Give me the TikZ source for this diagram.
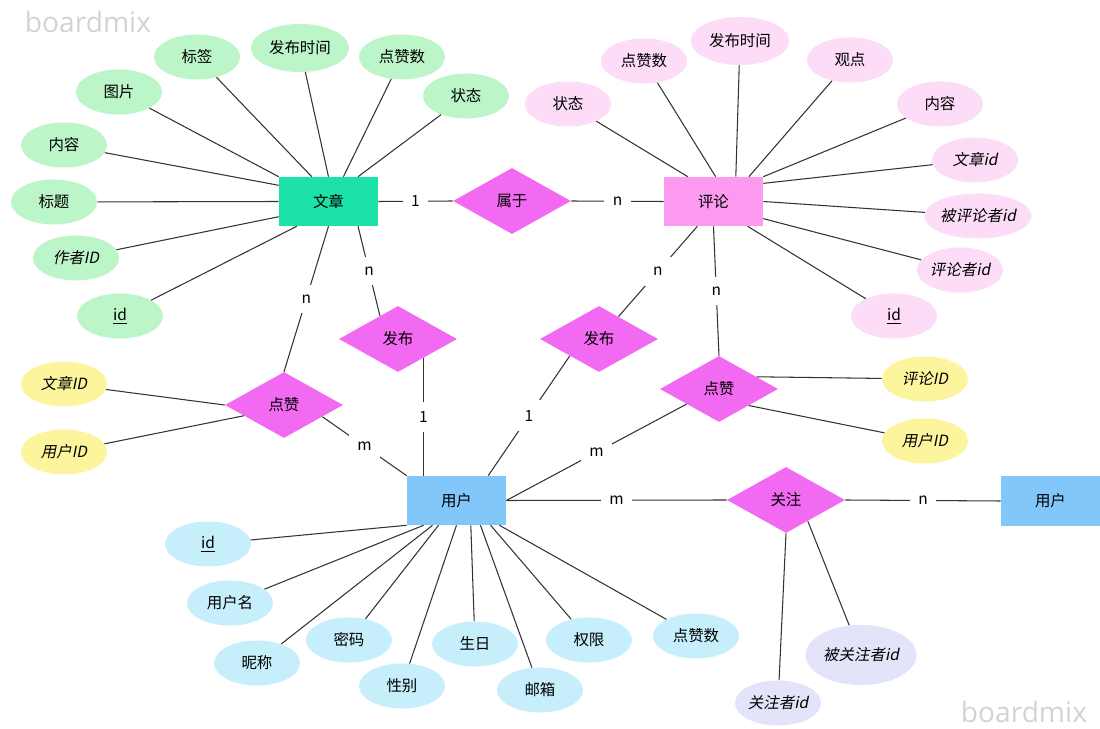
\documentclass[tikz,border=0pt]{standalone}
\usepackage{fontspec}
\setmainfont{Noto Sans CJK SC}[AutoFakeSlant=0.2]
\newfontfamily\wmfont{Open Sans}
\usetikzlibrary{shapes.geometric}
\definecolor{attrGreen}{HTML}{BCF5C8}
\definecolor{attrPink}{HTML}{FCDCF6}
\definecolor{attrYellow}{HTML}{FDF59E}
\definecolor{attrBlue}{HTML}{C6EEFB}
\definecolor{attrLav}{HTML}{E3E3FA}
\definecolor{relMag}{HTML}{F26AF2}
\definecolor{entTeal}{HTML}{1DE2A8}
\definecolor{entPink}{HTML}{FB9AEE}
\definecolor{entBlue}{HTML}{81C7FA}
\definecolor{lineGray}{HTML}{333333}
\definecolor{wmGray}{HTML}{D3D3D3}

\begin{document}
\begin{tikzpicture}[x=0.025cm,y=-0.025cm,
	font=\fontsize{11}{13}\selectfont,
	ent/.style={rectangle,minimum width=2.475cm,minimum height=1.225cm,inner sep=0pt},
	rel/.style={diamond,fill=relMag,minimum width=2.95cm,minimum height=1.65cm,inner sep=0pt},
	attr/.style={ellipse,minimum width=2.15cm,minimum height=1.125cm,inner sep=0pt},
	wide/.style={minimum width=2.45cm,minimum height=1.2cm},
	lnk/.style={draw=lineGray,line width=0.75pt},
	card/.style={fill=white,inner xsep=6pt,inner ysep=7pt},
	wm/.style={font=\wmfont\fontsize{20}{22}\selectfont,text=wmGray}]
	\fill[white] (0,0) rectangle (1100,729);
	\node[wm] (wmA) at (88,22) {boardmix};
	\node[wm] (wmB) at (1024,712) {boardmix};
	\node[ent,fill=entTeal] (wz) at (328.5,201.5) {文章};
	\node[ent,fill=entPink] (pl) at (713.5,201.5) {评论};
	\node[ent,fill=entBlue] (yh) at (456.5,500.5) {用户};
	\node[ent,fill=entBlue] (yhR) at (1050.5,501) {用户};
	\node[rel] (sy) at (512,201) {属于};
	\node[rel] (fbL) at (398,339) {发布};
	\node[rel] (fbR) at (599,339) {发布};
	\node[rel] (dzL) at (284,405) {点赞};
	\node[rel] (dzR) at (719,389) {点赞};
	\node[rel] (gz) at (786,500) {关注};
	\foreach \n/\x/\y/\t in {wzBQ/197/57/标签,wzDZ/402/57/点赞数,wzZT/466/96/状态,wzTP/119/92/图片,wzNR/64/145/内容,wzBT/54/202/标题,wzZZ/76/258/\textit{作者ID},wzID/120/316/\underline{id}}
		\node[attr,fill=attrGreen] (\n) at (\x,\y) {\t};
	\node[attr,wide,fill=attrGreen] (wzFS) at (300,48) {发布时间};
	\foreach \n/\x/\y/\t in {plZT/568/104/状态,plDZ/644/61/点赞数,plGD/850/60/观点,plNR/940/104/内容,plWZ/975/160/\textit{文章id},plPL/960/270/\textit{评论者id},plID/894/316/\underline{id}}
		\node[attr,fill=attrPink] (\n) at (\x,\y) {\t};
	\node[attr,wide,fill=attrPink] (plFS) at (740,41) {发布时间};
	\node[attr,fill=attrPink,minimum width=2.675cm] (plBP) at (978,216) {\textit{被评论者id}};
	\foreach \n/\x/\y/\t in {dzWZ/64/384/文章ID,dzYH/64/452/用户ID,dzPL/925/379/评论ID,dzYHR/925/441/用户ID}
		\node[attr,fill=attrYellow] (\n) at (\x,\y) {\textit{\t}};
	\foreach \n/\x/\y/\t in {yhID/208/544/\underline{id},yhMC/230/603/用户名,yhNC/257/663/昵称,yhMM/349/640/密码,yhXB/402/686/性别,yhSR/475/644/生日,yhYX/540/690/邮箱,yhQX/589/640/权限,yhDZ/696/636/点赞数}
		\node[attr,fill=attrBlue] (\n) at (\x,\y) {\t};
	\node[attr,fill=attrLav] (gzGZ) at (778,703) {\textit{关注者id}};
	\node[attr,fill=attrLav,minimum width=2.775cm,minimum height=1.5cm] (gzBG) at (861,655) {\textit{被关注者id}};
	\foreach \n/\a in {wzBQ/124,wzFS/90,wzDZ/59,wzZT/40,wzTP/north west,wzNR/162,wzBT/west,wzZZ/-163,wzID/-142}
		\draw[lnk] (\n) -- (wz.\a);
	\foreach \n/\a in {plZT/136,plDZ/85,plFS/48,plGD/35,plNR/north east,plWZ/20,plBP/east,plPL/-19,plID/-36}
		\draw[lnk] (\n) -- (pl.\a);
	\foreach \n/\a in {yhID/south west,yhMC/-143,yhNC/-134,yhMM/-126,yhXB/south,yhSR/-60,yhYX/-46,yhQX/-36,yhDZ/-30}
		\draw[lnk] (\n) -- (yh.\a);
	\draw[lnk] (dzL.west) -- (dzWZ);
	\draw[lnk] (dzL.-165) -- (dzYH);
	\draw[lnk] (dzR.18) -- (dzPL);
	\draw[lnk] (dzR.-29) -- (dzYHR);
	\draw[lnk] (gz.south) -- (gzGZ);
	\draw[lnk] (gz.-44) -- (gzBG);
	\draw[lnk] (wz.east) -- node[card]{1} (sy.west);
	\draw[lnk] (sy.east) -- node[card]{n} (pl.west);
	\draw[lnk] (wz.south) -- node[card]{n} (dzL.north);
	\draw[lnk] (wz.-40) -- node[card]{n} (fbL.128);
	\draw[lnk] (fbL.-37) -- node[card]{1} (fbL.-37 |- yh.north);
	\draw[lnk] (fbR.-150) -- node[card]{1} (yh.38);
	\draw[lnk] (pl.-123) -- node[card]{n} (fbR.49);
	\draw[lnk] (pl.south) -- node[card]{n} (dzR.north);
	\draw[lnk] (yh.east) -- node[card]{m} (dzR.-155);
	\draw[lnk] (dzL.-17) -- node[card]{m} (yh.north west);
	\draw[lnk] (yh.east) -- node[card]{m} (gz.west);
	\draw[lnk] (gz.east) -- node[card]{n} (yhR.west);
\end{tikzpicture}
\end{document}
